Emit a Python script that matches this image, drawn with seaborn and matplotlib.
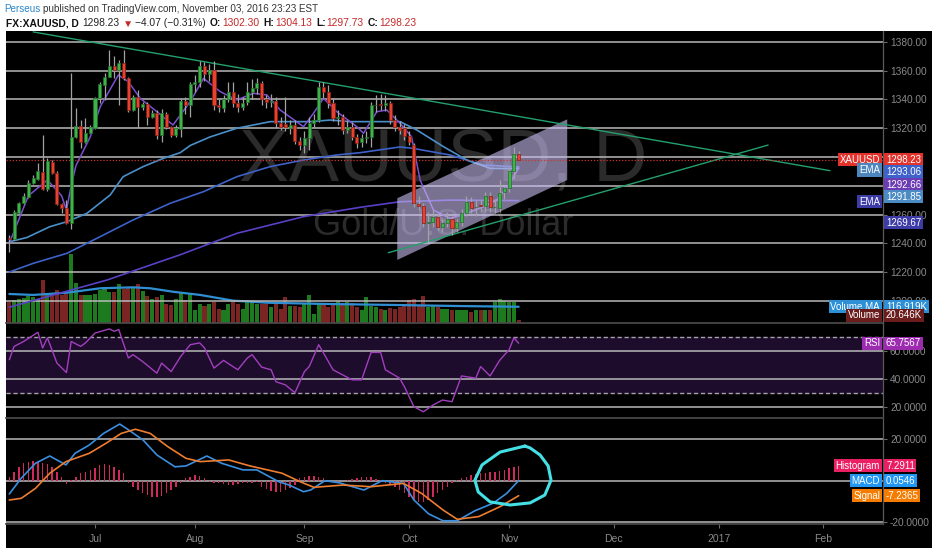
import numpy as np
import pandas as pd
import matplotlib
matplotlib.use("Agg")
import matplotlib.pyplot as plt
import seaborn as sns
from matplotlib import font_manager
from matplotlib.patches import Polygon, Rectangle
from matplotlib.transforms import blended_transform_factory

# ---------------- data ----------------
start_date = "2016-06-07"
axis_end_date = "2017-02-28"

opens = [1244, 1242.7, 1261.3, 1267.8, 1272.4, 1282.1, 1284.5, 1289.8, 1277.5, 1296.8, 1288.6, 1267.3, 1264.3, 1254.3, 1313.7, 1321.6, 1310.7, 1316.9,
         1319.9, 1340.8, 1350.1, 1355.9, 1363.3, 1360.5, 1365.6, 1354.7, 1332.7, 1341.5, 1335, 1336.9, 1327.6, 1330.8, 1315.3, 1329.9, 1320.6, 1315.3,
         1319.3, 1339, 1336, 1351, 1352.5, 1363, 1358, 1360.5, 1336, 1334, 1340, 1345.5, 1337.5, 1335, 1338.5, 1345.5, 1348, 1351.5,
         1340, 1338, 1339, 1323.5, 1323, 1320, 1322, 1311, 1308, 1313, 1323.5, 1326, 1349, 1345.5, 1337.5, 1327, 1328, 1319,
         1321, 1314, 1310.7, 1313, 1314, 1336, 1336.5, 1336, 1337.5, 1325.7, 1321, 1320, 1314.6, 1308.3, 1267.5, 1266, 1254, 1255,
         1258.5, 1251.5, 1254, 1257, 1250.5, 1255, 1261, 1269, 1265, 1266.5, 1266, 1273, 1265, 1264.3, 1275.9, 1278.2, 1290, 1302.30]
highs = [1245.5, 1263, 1269, 1274.7, 1284, 1287.5, 1295.6, 1315.3, 1299, 1298, 1290, 1268.2, 1270, 1358.2, 1333.9, 1325.7, 1326.9, 1322.3,
         1342, 1352.4, 1358.2, 1374.4, 1370.3, 1367.5, 1374.4, 1355.4, 1343, 1346.6, 1338.5, 1338.5, 1332.7, 1332.7, 1333.2, 1331.5, 1321.6, 1322.3,
         1341, 1342, 1352, 1357, 1366.5, 1366, 1365, 1367, 1340, 1343, 1352, 1352, 1344, 1342, 1352, 1354, 1355, 1353,
         1343, 1344, 1342, 1328, 1342, 1326, 1326, 1314, 1318, 1328, 1330, 1352.5, 1352, 1350, 1341, 1333, 1330, 1326,
         1324, 1316, 1316, 1318, 1338, 1343, 1344, 1343, 1339, 1329, 1325, 1323, 1318, 1310, 1273, 1268, 1262, 1263,
         1261, 1257, 1262, 1259, 1257, 1264, 1273, 1272, 1270, 1270, 1276, 1276, 1271, 1284, 1280, 1293, 1307, 1304.13]
lows = [1234, 1242, 1260.5, 1267, 1271.5, 1281.5, 1283.8, 1277, 1276.5, 1288, 1266.6, 1260.8, 1253.4, 1249.7, 1313, 1306, 1310, 1316.5,
        1319.3, 1337.3, 1339.6, 1355.4, 1354.7, 1336.2, 1353.6, 1331.5, 1332.2, 1320, 1332.7, 1322.3, 1326.9, 1312.3, 1310.7, 1319.3, 1314.1, 1314.1,
        1314, 1330, 1328, 1345, 1349, 1353, 1353, 1333, 1331, 1331, 1338, 1335, 1331, 1333, 1336, 1340, 1344, 1336,
        1334, 1335, 1321, 1319, 1318, 1316, 1309, 1305, 1303, 1305, 1321, 1324, 1341, 1334, 1325, 1322, 1316, 1317,
        1312, 1306, 1307, 1310, 1307, 1331, 1333, 1332, 1323, 1318, 1316, 1312, 1308, 1265, 1263, 1251, 1241, 1251,
        1249, 1248, 1251, 1246, 1248, 1252, 1259, 1261, 1259, 1262, 1262, 1262, 1261, 1262, 1271, 1276, 1285, 1297.73]
closes = [1243, 1262, 1268.2, 1272.9, 1282.1, 1285.2, 1290.3, 1277.5, 1297.5, 1288.6, 1267.3, 1264.3, 1254.3, 1313.7, 1321.6, 1310.7, 1316.5, 1320.6,
          1340.8, 1350.8, 1355.9, 1363.3, 1360.5, 1365.6, 1354.7, 1332.7, 1341.5, 1335, 1336.9, 1327.6, 1330.8, 1315.3, 1330.8, 1321.1, 1315.3, 1319.9,
          1339.2, 1336, 1351, 1352.5, 1363, 1358, 1360.5, 1336, 1335, 1340, 1345.5, 1337.5, 1334.5, 1337.5, 1345.5, 1348, 1351.5, 1340,
          1338, 1339, 1323.5, 1321, 1321, 1322, 1311, 1308, 1313, 1323.5, 1326, 1349, 1345.5, 1337.5, 1327, 1328, 1319, 1321,
          1314, 1310, 1313, 1314, 1336, 1336.5, 1336.2, 1337.5, 1325.7, 1321, 1318.8, 1314.6, 1310.7, 1267.8, 1266, 1254, 1255, 1258.5,
          1251.5, 1254, 1257, 1250.5, 1255, 1261, 1269, 1264.3, 1265.5, 1266, 1273, 1265, 1265.5, 1274.7, 1278.2, 1290, 1302.30, 1298.23]
volumes_k = [151, 166, 173, 180, 194, 187, 173, 310, 216, 209, 238, 202, 209, 497, 288, 202, 202, 202,
             209, 238, 259, 223, 223, 281, 245, 259, 259, 281, 230, 194, 173, 187, 202, 137, 130, 173,
             216, 166, 209, 94, 137, 122, 137, 151, 101, 94, 137, 151, 137, 101, 166, 158, 137, 137,
             137, 115, 137, 101, 187, 122, 122, 115, 137, 202, 65, 137, 137, 115, 137, 158, 137, 151,
             144, 115, 94, 187, 122, 115, 101, 94, 108, 101, 115, 122, 166, 173, 122, 194, 115, 122,
             115, 101, 101, 94, 94, 94, 94, 79, 94, 94, 94, 94, 151, 173, 158, 151, 151, 20.646]
vol_ma_x = [0, 5, 12.1, 19.1, 26, 29.6, 34.4, 40.1, 47, 54.1, 66.7, 80.6, 94.7, 107]
vol_ma_k = [209, 202, 218, 250, 257, 250, 225, 202, 161, 146, 137, 130, 122, 116.919]

ema_fast_x = [0, 4, 8, 11, 12, 13, 14, 17, 19.1, 22.9, 25, 27.5, 31, 33.1, 34.4, 38, 40.8, 44.3, 47.8, 51.3, 54.1, 56.9,
              61.8, 63.9, 66, 68.8, 73, 74.4, 77.2, 79.3, 82.1, 84.5, 86.3, 89.1, 92.6, 96.1, 99.6, 102.4, 105.2, 107]
ema_fast_y = [1240, 1273, 1284, 1273, 1263, 1280, 1294, 1314, 1335, 1357, 1352.4, 1340.8, 1331.5, 1325.7, 1322.3, 1338.5,
              1354.7, 1345.5, 1339.7, 1344.3, 1343.2, 1332.7, 1321.1, 1330.4, 1340.8, 1331.5, 1321.1, 1316.5, 1331.5, 1332.7,
              1323.4, 1314.1, 1284, 1263.1, 1257.3, 1260.8, 1265.4, 1270, 1281.7, 1292.66]
ema_mid_x = [0, 3.7, 8.5, 12.1, 16.3, 21.2, 23.9, 28.1, 32.3, 35.9, 38, 42.2, 47.8, 54.8, 63.2, 67.4, 71.6, 82.1, 85.6,
             91.2, 96.1, 101, 107]
ema_mid_y = [1241, 1244, 1251.5, 1255, 1260.8, 1273.6, 1286.3, 1293.3, 1299, 1303, 1308, 1314, 1320, 1324.6, 1324.6,
             1325.7, 1324.6, 1324.6, 1318.8, 1307.2, 1297.9, 1292.1, 1291.85]
ema_slow_x = [0, 5, 12.1, 19.1, 26, 33.8, 40.8, 47.8, 54.8, 61.8, 68.8, 73.7, 82.1, 84.8, 92.6, 99.5, 107]
ema_slow_y = [1220, 1226, 1233, 1244.6, 1256.2, 1267.8, 1275.9, 1286.3, 1293.3, 1297.9, 1301.4, 1303, 1307, 1306,
              1301.4, 1294.4, 1293.06]
ema_long_x = [0, 20.5, 35.9, 47.8, 61.8, 73.7, 82.1, 92.6, 107]
ema_long_y = [1195.5, 1214.4, 1232, 1246.9, 1258.5, 1265, 1268.9, 1270, 1269.67]

rsi_x = [0, 1, 3, 6, 7, 8, 10, 12, 13, 15, 16, 18, 21, 22, 23, 25, 26, 28, 31, 32, 34, 36, 38, 40, 41, 43, 45, 48, 50, 51,
         53, 55, 56, 58, 60, 62, 63, 65, 66, 68, 70, 72, 74, 76, 78, 79, 82, 83, 85, 87, 89, 91, 93, 95, 98, 99, 101, 103,
         105, 106, 107]
rsi_y = [54, 63.5, 67, 73.6, 62.4, 69.6, 51.6, 44.8, 67, 63.5, 66, 73, 76, 74.3, 75.5, 55.2, 57.6, 52.7, 44.4, 51.6, 45.5,
         56.3, 64.7, 66, 62.4, 48, 53.5, 46.8, 55.2, 57.6, 48.7, 46.8, 38.3, 36, 30.4, 45.5, 49.1, 64.7, 58.8, 46.8, 43.2,
         39.6, 39.6, 59.2, 59.2, 46.8, 40.8, 34.7, 20.4, 16.8, 21.6, 25.2, 24, 42.4, 40.8, 49.1, 42.4, 53.5, 61.2, 69.6, 65.7567]

macd_x = [0, 2.5, 5.5, 8.5, 11.9, 13.8, 16.8, 19.8, 23.2, 25.1, 28.1, 31, 34.8, 37.1, 41.5, 44.6, 49.1, 52, 56.6, 58.8,
          61.8, 63.3, 66.3, 69.3, 74.5, 78.3, 82.8, 85, 88.1, 91.1, 94.1, 97.8, 101.6, 104.5, 107]
macd_y = [-6.4, 1.2, 8.4, 11.9, 7.6, 13.2, 17.2, 22.8, 27.3, 24.4, 19.6, 12.4, 6.7, 7.1, 11.9, 8.4, 5.2, 5.2, -0.5, -2.1,
          -5.3, -4.5, 0, -1, -4.5, 0, -1.3, -9.3, -16, -19.3, -19.3, -14.5, -10.9, -6.1, 0.0546]
signal_x = [0, 2.5, 5.5, 8.5, 11.9, 16.8, 20.5, 23.5, 26.5, 29.6, 33.3, 37.1, 40.1, 46.1, 50.6, 57.3, 61.1, 64, 70.1, 76,
            82.8, 86.6, 91.1, 94.1, 98.6, 103.1, 107]
signal_y = [-9.3, -8.5, -3.7, 3.6, 9.2, 13.2, 18.3, 22.8, 24.8, 22.8, 16.4, 10.8, 9.2, 10, 7.1, 3.6, -0.5, -3.2, -2.1, -2.9,
            -1.3, -6.1, -14.1, -18.6, -17.3, -12.5, -7.2365]
hist = [1.9, 4.3, 6.7, 8.4, 9.2, 9.6, 9.2, 8.7, 8.0, 6.7, 4.3, 1.9,
        -1.6, 0.3,
        1.9, 3.5, 4.3, 5.1, 6.3, 7.6, 8.0, 7.6, 6.7, 5.1, 3.5,
        -1.3, -2.9, -4.5, -6.1, -6.9, -7.7, -8.0, -7.4, -6.1, -4.5, -2.9, -1.3,
        1.1, 1.9, 2.7, 2.2, 1.1,
        -0.5, -1.0, -1.3, -1.6, -2.1, -2.1, -1.8, -1.3, -1.0, -1.0, -0.5,
        -2.9, -4.2, -4.8, -5.3, -5.3, -4.5, -3.7, -2.1,
        1.1, 1.9, 2.2, 2.2, 1.9, 1.1,
        -0.5, -0.8, -0.5, -0.2, 0.2,
        0.6, 1.1, 1.6, 1.9, 1.6, 0.6, 0.3,
        -1.0, -1.6, -2.9, -4.5, -6.1, -7.7, -9.3, -10.1, -10.1, -9.3, -7.7, -6.1, -4.5, -2.9, -1.3,
        0.3, 1.1, 1.9, 2.7, 3.2, 3.5, 3.9, 4.3, 4.3, 4.8, 5.1, 5.9, 6.7, 7.2911]

# drawings
down_line_x = [5, 172.4]
down_line_y = [1387.0, 1290.5]
up_line_x = [79.6, 159.4]
up_line_y = [1233.4, 1308.3]
channel_x = [81.5, 117.2, 117.2, 81.5]
channel_y = [1271.3, 1326.2, 1284.0, 1228.4]
loop_x = [108.3, 103.1, 99.3, 97.8, 98.5, 101.0, 105.2, 109.4, 112.5, 113.8, 113.2, 111.5, 109.4, 108.3]
loop_y = [16.7, 13.8, 7.6, 0.3, -5.4, -10.2, -11.7, -10.7, -6.9, 0.3, 7.1, 12.4, 15.8, 16.7]

price_grid = [1200, 1220, 1240, 1260, 1280, 1300, 1320, 1340, 1360, 1380]
price_ticks = [1200, 1220, 1240, 1260, 1320, 1340, 1360, 1380]

# ---------------- style ----------------
sns.set_theme(style="dark", rc={"axes.facecolor": "black", "figure.facecolor": "black"})
names = {f.name for f in font_manager.fontManager.ttflist}
FONT = "Liberation Sans Narrow" if "Liberation Sans Narrow" in names else "Liberation Sans"
plt.rcParams["font.family"] = [FONT, "DejaVu Sans"]
plt.rcParams["axes.unicode_minus"] = False

W, H = 932, 550
fig = plt.figure(figsize=(W / 100, H / 100), dpi=100, facecolor="black")


def pax(x0, y0, x1, y1):
    return fig.add_axes([x0 / W, 1 - y1 / H, (x1 - x0) / W, (y1 - y0) / H])


for rect in [(0, 1 - 31 / H, 1, 31 / H), (0, 0, 6 / W, 1), (0, 0, 1, 2 / H)]:
    fig.patches.append(Rectangle(rect[:2], rect[2], rect[3], transform=fig.transFigure,
                                 facecolor="white", edgecolor="none", zorder=-1))

days = np.arange(len(closes))
all_days = pd.bdate_range(start_date, axis_end_date)
month_pos, month_lbl = [], []
for k in range(1, len(all_days)):
    if all_days[k].month != all_days[k - 1].month:
        month_pos.append(k)
        month_lbl.append(str(all_days[k].year) if all_days[k].month == 1 else all_days[k].strftime("%b"))

XL = (-0.697, 183.54)
ax_vol = pax(6, 31, 883, 323)
ax_price = pax(6, 31, 883, 323)
ax_rsi = pax(6, 323, 883, 418)
ax_macd = pax(6, 418, 883, 524)
ax_vol.set_zorder(0)
ax_price.set_zorder(1)
ax_price.set_facecolor("none")

GRID = "#b9b9b9"
TICKC = "#8a8a8a"
for ax in [ax_vol, ax_price, ax_rsi, ax_macd]:
    ax.set_xlim(*XL)
    ax.grid(False)
    for s in ax.spines.values():
        s.set_visible(False)
    ax.tick_params(axis="x", bottom=False, labelbottom=False, top=False, labeltop=False)
    ax.tick_params(axis="y", left=False, labelleft=False, right=False, labelright=False)

for ax in [ax_price, ax_rsi, ax_macd]:
    ax.yaxis.set_ticks_position("right")
    ax.tick_params(axis="y", right=True, labelright=True, length=3, width=0.8, pad=2,
                   labelsize=7.3, color="#6a6a6a", labelcolor=TICKC)
    ax.spines["right"].set_visible(True)
    ax.spines["right"].set_color("#5a5a5a")
    ax.spines["right"].set_linewidth(0.9)
for ax in [ax_rsi, ax_macd]:
    ax.spines["top"].set_visible(True)
    ax.spines["top"].set_color("#4a4a4a")
ax_macd.spines["bottom"].set_visible(True)
ax_macd.spines["bottom"].set_color("#4a4a4a")

# ---------------- watermark ----------------
ax_vol.text(443 / W, 1 - 180 / H, "XAUUSD, D", transform=fig.transFigure, ha="center", va="baseline",
            fontsize=54, color="#2b2b2b", family=["Liberation Sans", "DejaVu Sans"], zorder=0.5)
ax_vol.text(443 / W, 1 - 235 / H, "Gold/U.S. Dollar", transform=fig.transFigure, ha="center", va="baseline",
            fontsize=26, color="#2b2b2b", family=["Liberation Sans", "DejaVu Sans"], zorder=0.5)

# ---------------- volume ----------------
o = np.array(opens); c = np.array(closes); hi = np.array(highs); lo = np.array(lows)
up = c >= o
ax_vol.set_ylim(0, 2102.4)
ax_vol.bar(days, volumes_k, width=0.86, color=np.where(up, "#1d7a1f", "#7a2424"),
           edgecolor="none", linewidth=0, zorder=1)
sns.lineplot(x=vol_ma_x, y=vol_ma_k, ax=ax_vol, color="#2f8fd2", linewidth=1.6, zorder=2)
ax_vol.set_xlabel(""); ax_vol.set_ylabel("")

# ---------------- price ----------------
ax_price.set_ylim(1184.522, 1387.652)
ax_price.set_yticks(price_ticks)
ax_price.set_yticklabels([f"{v:.2f}" for v in price_ticks])
for g in price_grid:
    ax_price.axhline(g, color=GRID, lw=1.1, zorder=1)
ax_price.axhline(closes[-1], color="#d0342c", lw=0.9, ls=(0, (1, 1.5)), zorder=3.5)

sns.lineplot(x=ema_long_x, y=ema_long_y, ax=ax_price, color="#5a40c6", linewidth=1.2, zorder=2)
sns.lineplot(x=ema_slow_x, y=ema_slow_y, ax=ax_price, color="#3d62c9", linewidth=1.2, zorder=2)
sns.lineplot(x=ema_mid_x, y=ema_mid_y, ax=ax_price, color="#4a8fc9", linewidth=1.2, zorder=2)
sns.lineplot(x=ema_fast_x, y=ema_fast_y, ax=ax_price, color="#7c4fd0", linewidth=1.1, zorder=2)

ax_price.add_patch(Polygon(list(zip(channel_x, channel_y)), closed=True, facecolor="#c9bdf2",
                           alpha=0.6, edgecolor="none", zorder=2.5))
sns.lineplot(x=down_line_x, y=down_line_y, ax=ax_price, color="#23a06c", linewidth=1.0, zorder=3)
sns.lineplot(x=up_line_x, y=up_line_y, ax=ax_price, color="#23a06c", linewidth=1.0, zorder=3)

ax_price.vlines(days, lo, hi, color="#a3a3a3", lw=0.9, zorder=4)
body_lo = np.minimum(o, c)
body_h = np.maximum(np.abs(c - o), 0.5)
ax_price.bar(days, body_h, bottom=body_lo, width=0.64,
             color=np.where(up, "#3fb34a", "#e8412f"),
             edgecolor=np.where(up, "#1f6f29", "#8a1e14"), linewidth=0.5, zorder=5)
ax_price.set_xlabel(""); ax_price.set_ylabel("")

# ---------------- RSI ----------------
ax_rsi.set_ylim(12.36, 80.21)
ax_rsi.axhspan(30, 70, color="#1d0c2b", zorder=0.5)
for g in [20, 40, 60]:
    ax_rsi.axhline(g, color=GRID, lw=1.1, zorder=1)
for g in [30, 70]:
    ax_rsi.axhline(g, color="#a5a5a5", lw=1.0, ls=(0, (3, 2)), zorder=1)
sns.lineplot(x=rsi_x, y=rsi_y, ax=ax_rsi, color="#a23fbf", linewidth=1.0, zorder=3)
ax_rsi.set_yticks([20, 40, 60])
ax_rsi.set_yticklabels([f"{v:.4f}" for v in [20, 40, 60]])
ax_rsi.set_xlabel(""); ax_rsi.set_ylabel("")

# ---------------- MACD ----------------
ax_macd.set_ylim(-20.87, 30.22)
for g in [-20, 0, 20]:
    ax_macd.axhline(g, color=GRID, lw=1.1, zorder=1)
ax_macd.bar(days, hist, width=0.3, color="#cf2a5c", edgecolor="none", linewidth=0, zorder=2)
sns.lineplot(x=macd_x, y=macd_y, ax=ax_macd, color="#3b8fe0", linewidth=1.2, zorder=3)
sns.lineplot(x=signal_x, y=signal_y, ax=ax_macd, color="#ee7d2f", linewidth=1.2, zorder=3)
ax_macd.plot(loop_x, loop_y, color="#44e0e4", lw=2.2, zorder=4, clip_on=False, solid_joinstyle="round")
ax_macd.set_yticks([-20, 20])
ax_macd.set_yticklabels([f"{v:.4f}" for v in [-20, 20]])
ax_macd.set_xticks(month_pos)
ax_macd.set_xticklabels(month_lbl)
ax_macd.tick_params(axis="x", bottom=True, labelbottom=True, length=3, width=0.8, pad=4,
                    labelsize=7.5, color="#6a6a6a", labelcolor=TICKC)
ax_macd.set_xlabel(""); ax_macd.set_ylabel("")

# ---------------- right-hand tags ----------------

def tag(ax, y, text, fc, name=False, dy=0, ytrans=None):
    trans = blended_transform_factory(ax.transAxes, (ytrans or ax).transData)
    dx, ha = (-3, "right") if name else (3, "left")
    ax.annotate(text, (1, y), xycoords=trans, xytext=(dx, dy), textcoords="offset pixels",
                ha=ha, va="center", fontsize=7, color="white", annotation_clip=False, zorder=20,
                bbox=dict(boxstyle="square,pad=0.16", fc=fc, ec="none"))


tag(ax_price, closes[-1], "XAUUSD", "#e2322b", name=True)
tag(ax_price, closes[-1], f"{closes[-1]:.2f}", "#e2322b")
tag(ax_price, ema_slow_y[-1], "EMA", "#4d86bd", name=True, dy=-3)
tag(ax_price, ema_slow_y[-1], f"{ema_slow_y[-1]:.2f}", "#3d62c9", dy=-5)
tag(ax_price, ema_fast_y[-1], f"{ema_fast_y[-1]:.2f}", "#6c3cb4", dy=-17)
tag(ax_price, ema_mid_y[-1], f"{ema_mid_y[-1]:.2f}", "#4a8bc4", dy=-28)
tag(ax_price, ema_mid_y[-1], "EMA", "#3d3ba6", name=True, dy=-33)
tag(ax_price, ema_long_y[-1], f"{ema_long_y[-1]:.2f}", "#3d3ba6", dy=-22)
tag(ax_price, vol_ma_k[-1], "Volume MA", "#2d8fd5", name=True, ytrans=ax_vol)
tag(ax_price, vol_ma_k[-1], f"{vol_ma_k[-1]:.3f}K", "#2d8fd5", ytrans=ax_vol)
tag(ax_price, volumes_k[-1], "Volume", "#6b1d1d", name=True, ytrans=ax_vol, dy=5)
tag(ax_price, volumes_k[-1], f"{volumes_k[-1]:.3f}K", "#6b1d1d", ytrans=ax_vol, dy=5)
tag(ax_rsi, rsi_y[-1], "RSI", "#9c2bb0", name=True)
tag(ax_rsi, rsi_y[-1], f"{rsi_y[-1]:.4f}", "#9c2bb0")
tag(ax_macd, hist[-1], "Histogram", "#e91e63", name=True)
tag(ax_macd, hist[-1], f"{hist[-1]:.4f}", "#e91e63")
tag(ax_macd, macd_y[-1], "MACD", "#2196f3", name=True)
tag(ax_macd, macd_y[-1], f"{macd_y[-1]:.4f}", "#2196f3")
tag(ax_macd, signal_y[-1], "Signal", "#f57c00", name=True)
tag(ax_macd, signal_y[-1], f"{signal_y[-1]:.4f}", "#f57c00")

# ---------------- header ----------------
renderer = fig.canvas.get_renderer()


def seq_text(x_px, y_px, pieces, fs):
    x = x_px
    for s, color, weight, gap in pieces:
        t = fig.text(x / W, 1 - y_px / H, s, color=color, fontsize=fs, fontweight=weight,
                     ha="left", va="center")
        x += t.get_window_extent(renderer).width + gap


chg = closes[-1] - closes[-2]
pct = chg / closes[-2] * 100
RED = "#c62828"
seq_text(4, 8.5, [("Perseus", "#2a86c8", "normal", 3),
                  ("published on TradingView.com, November 03, 2016 23:23 EST", "#333333", "normal", 0)], 7.1)
seq_text(6, 23.5, [("FX:XAUUSD, D", "#111111", "bold", 4),
                   (f"{closes[-1]:.2f}", "#222222", "normal", 3),
                   ("\u25bc", "#c62828", "normal", 2),
                   (f"\u2212{abs(chg):.2f} (\u2212{abs(pct):.2f}%)", "#222222", "normal", 4),
                   ("O:", "#111111", "bold", 1), (f"{opens[-1]:.2f}", RED, "normal", 4),
                   ("H:", "#111111", "bold", 1), (f"{highs[-1]:.2f}", RED, "normal", 4),
                   ("L:", "#111111", "bold", 1), (f"{lows[-1]:.2f}", RED, "normal", 4),
                   ("C:", "#111111", "bold", 1), (f"{closes[-1]:.2f}", RED, "normal", 0)], 7.4)

fig.savefig("out.png", dpi=100, facecolor=fig.get_facecolor())
